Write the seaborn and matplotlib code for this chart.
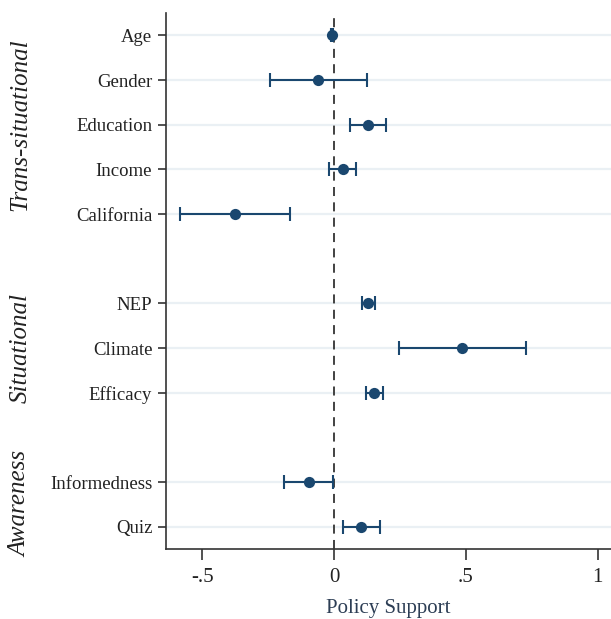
import numpy as np
import pandas as pd
import seaborn as sns
import matplotlib.pyplot as plt
from matplotlib.transforms import blended_transform_factory

sns.set_theme(style="white")
plt.rcParams['font.family'] = ['Liberation Serif', 'DejaVu Serif']

# Coefficients and 95% CIs
variables = ['Age', 'Gender', 'Education', 'Income', 'California',
             'NEP', 'Climate', 'Efficacy',
             'Informedness', 'Quiz']
groups = ['Trans-situational'] * 5 + ['Situational'] * 3 + ['Awareness'] * 2
estimate = [-0.008, -0.060, 0.129, 0.034, -0.375,
            0.129, 0.485, 0.152,
            -0.095, 0.102]
ci_low = [-0.013, -0.242, 0.060, -0.019, -0.583,
          0.106, 0.246, 0.121,
          -0.189, 0.034]
ci_high = [-0.003, 0.125, 0.197, 0.083, -0.167,
           0.155, 0.727, 0.186,
           -0.004, 0.174]
positions = [0, 1, 2, 3, 4, 6, 7, 8, 10, 11]
group_names = ['Trans-situational', 'Situational', 'Awareness']
xticks = [-0.5, 0, 0.5, 1]
xticklabels = ['-.5', '0', '.5', '1']

df = pd.DataFrame({'variable': variables, 'group': groups, 'pos': positions,
                   'b': estimate, 'lo': ci_low, 'hi': ci_high})

navy = '#1a476f'
axcol = '#333333'

fig = plt.figure(figsize=(6.11, 6.19), dpi=100)
ax = fig.add_axes([0.272, 0.113, 0.728, 0.866])

# light reference lines at each category
for p in df.pos:
    ax.axhline(p, color='#eaf0f4', lw=1.6, zorder=0)
ax.axvline(0, color='#333333', lw=1.3, ls=(0, (5, 3.5)), zorder=1)

ax.errorbar(df.b, df.pos, xerr=[df.b - df.lo, df.hi - df.b], fmt='none',
            ecolor=navy, elinewidth=1.5, capsize=5, capthick=1.5, zorder=2)
sns.scatterplot(data=df, x='b', y='pos', ax=ax, color=navy, s=65,
                edgecolor=navy, linewidth=0, zorder=3, legend=False)

ax.set_ylim(11.5, -0.5)
ax.set_xlim(-0.636, 1.05)
ax.set_yticks(positions)
ax.set_yticklabels(variables, fontsize=13.5, color='#222222')
ax.set_xticks(xticks)
ax.set_xticklabels(xticklabels, fontsize=15, color='#222222')
ax.set_ylabel('')
ax.set_xlabel('Policy Support', fontsize=15, color='#2d3e55', labelpad=8)

for side in ['top', 'right']:
    ax.spines[side].set_visible(False)
for side in ['left', 'bottom']:
    ax.spines[side].set_color(axcol)
    ax.spines[side].set_linewidth(1.2)
ax.tick_params(axis='y', direction='out', length=6, width=1.2, color=axcol,
               left=True, pad=4)
ax.tick_params(axis='x', direction='out', length=8, width=1.2, color=axcol,
               bottom=True, pad=6)

# group labels, centred on each block
trans = blended_transform_factory(fig.transFigure, ax.transData)
for g in group_names:
    mid = df.loc[df.group == g, 'pos'].mean()
    ax.text(0.034, mid, g, transform=trans, rotation=90, ha='center',
            va='center', fontsize=18, style='italic', color='#222222')

fig.savefig('out.png', dpi=100)
